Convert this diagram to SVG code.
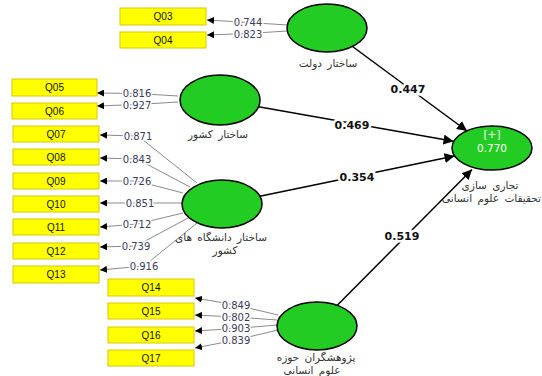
<svg xmlns="http://www.w3.org/2000/svg" width="542" height="376" viewBox="0 0 542 376">
<style>
.box{fill:#ffff00;stroke:#d8c800;stroke-width:1}
.bt{font-family:"Liberation Sans",Arial,sans-serif;font-size:10px;fill:#111;text-anchor:middle}
.lv{fill:#22cc22;stroke:#000;stroke-width:1.5}
.fa{font-family:"DejaVu Sans",sans-serif;font-size:10.5px;fill:#333;text-anchor:middle;word-spacing:2px}
.ld{fill:none;stroke:#8a8a8a;stroke-width:1}
.pc{fill:none;stroke:#000;stroke-width:1.5}
.lt{font-family:"DejaVu Sans",sans-serif;font-size:10px;fill:#3a3a5a;text-anchor:middle;paint-order:stroke;stroke:#fff;stroke-width:3px}
.pt{font-family:"DejaVu Sans",sans-serif;font-weight:bold;font-size:11px;fill:#111;text-anchor:middle;paint-order:stroke;stroke:#fff;stroke-width:5px}
.wt{font-family:"DejaVu Sans",sans-serif;font-size:10.5px;fill:#fff;text-anchor:middle}
</style>
<defs>
<marker id="ah" viewBox="0 0 10 10" refX="10" refY="5" markerWidth="7" markerHeight="7" markerUnits="userSpaceOnUse" orient="auto">
<path d="M0,0 L10,5 L0,10 z" fill="#000"/>
</marker>
<marker id="ah2" viewBox="0 0 10 10" refX="10" refY="5" markerWidth="10" markerHeight="10" markerUnits="userSpaceOnUse" orient="auto">
<path d="M0,0 L10,5 L0,10 z" fill="#000"/>
</marker>
</defs>
<rect width="542" height="376" fill="#fff"/>

<g id="connectors">
<path class="ld" d="M288,25 L248,22.5 L207,20" marker-end="url(#ah)"/>
<path class="ld" d="M287,31 L248,33.5 L207,35" marker-end="url(#ah)"/>
<path class="ld" d="M178,96 L137,93.5 L97,93" marker-end="url(#ah)"/>
<path class="ld" d="M178,102 L137,104.5 L97,106" marker-end="url(#ah)"/>
<path class="ld" d="M197,183 L138,136 L100,135" marker-end="url(#ah)"/>
<path class="ld" d="M190,187 L137,159 L100,158" marker-end="url(#ah)"/>
<path class="ld" d="M183,193 L137,181 L100,181" marker-end="url(#ah)"/>
<path class="ld" d="M182,203 L140,203 L100,203" marker-end="url(#ah)"/>
<path class="ld" d="M183,213 L137,224 L100,227" marker-end="url(#ah)"/>
<path class="ld" d="M188,218 L136,246 L100,247" marker-end="url(#ah)"/>
<path class="ld" d="M197,223 L144,266 L100,270" marker-end="url(#ah)"/>
<path class="ld" d="M278,315 L236,305 L195,298" marker-end="url(#ah)"/>
<path class="ld" d="M277,320 L236,317 L195,315" marker-end="url(#ah)"/>
<path class="ld" d="M277,325 L236,328.5 L195,331" marker-end="url(#ah)"/>
<path class="ld" d="M278,330 L236,340 L195,348" marker-end="url(#ah)"/>
<path class="pc" d="M352.5,46.5 L467,131" marker-end="url(#ah2)"/>
<path class="pc" d="M258.5,106.8 L453.5,141.3" marker-end="url(#ah2)"/>
<path class="pc" d="M259.8,196.2 L454.5,156" marker-end="url(#ah2)"/>
<path class="pc" d="M337.3,305.3 L472,169.5" marker-end="url(#ah2)"/>
<text class="lt" x="248" y="26">0.744</text>
<text class="lt" x="248" y="37.5">0.823</text>
<text class="lt" x="137" y="97">0.816</text>
<text class="lt" x="137" y="108.5">0.927</text>
<text class="lt" x="138" y="139.5">0.871</text>
<text class="lt" x="137" y="162.5">0.843</text>
<text class="lt" x="137" y="184.5">0.726</text>
<text class="lt" x="140" y="206.5">0.851</text>
<text class="lt" x="137" y="227.5">0.712</text>
<text class="lt" x="136" y="249.5">0.739</text>
<text class="lt" x="144" y="269.5">0.916</text>
<text class="lt" x="236" y="308.5">0.849</text>
<text class="lt" x="236" y="320.5">0.802</text>
<text class="lt" x="236" y="332">0.903</text>
<text class="lt" x="236" y="343.5">0.839</text>
<text class="pt" x="408" y="93">0.447</text>
<text class="pt" x="352" y="129">0.469</text>
<text class="pt" x="357" y="181">0.354</text>
<text class="pt" x="402" y="240">0.519</text>
</g>

<g id="Q03"><rect class="box" x="120" y="8" width="86" height="17"/><text class="bt" x="163" y="20">Q03</text></g>
<g id="Q04"><rect class="box" x="120" y="32" width="86" height="16"/><text class="bt" x="163" y="44">Q04</text></g>
<g id="Q05"><rect class="box" x="12" y="79" width="85" height="17"/><text class="bt" x="54.5" y="91">Q05</text></g>
<g id="Q06"><rect class="box" x="12" y="103" width="85" height="16"/><text class="bt" x="54.5" y="115">Q06</text></g>
<g id="Q07"><rect class="box" x="13" y="126" width="86" height="16"/><text class="bt" x="56" y="138">Q07</text></g>
<g id="Q08"><rect class="box" x="13" y="149" width="86" height="16"/><text class="bt" x="56" y="161">Q08</text></g>
<g id="Q09"><rect class="box" x="13" y="173" width="86" height="16"/><text class="bt" x="56" y="185">Q09</text></g>
<g id="Q10"><rect class="box" x="13" y="196" width="86" height="16"/><text class="bt" x="56" y="208">Q10</text></g>
<g id="Q11"><rect class="box" x="13" y="219" width="86" height="16"/><text class="bt" x="56" y="231">Q11</text></g>
<g id="Q12"><rect class="box" x="13" y="243" width="86" height="16"/><text class="bt" x="56" y="255">Q12</text></g>
<g id="Q13"><rect class="box" x="13" y="266" width="86" height="17"/><text class="bt" x="56" y="278">Q13</text></g>
<g id="Q14"><rect class="box" x="108" y="279" width="86" height="17"/><text class="bt" x="151" y="291">Q14</text></g>
<g id="Q15"><rect class="box" x="108" y="303" width="86" height="16"/><text class="bt" x="151" y="315">Q15</text></g>
<g id="Q16"><rect class="box" x="108" y="327" width="86" height="16"/><text class="bt" x="151" y="339">Q16</text></g>
<g id="Q17"><rect class="box" x="108" y="350" width="86" height="16"/><text class="bt" x="151" y="362">Q17</text></g>

<g id="LV_dolat"><ellipse class="lv" cx="327" cy="28" rx="40" ry="24"/><text class="fa" x="328" y="67">ساختار دولت</text></g>
<g id="LV_keshvar"><ellipse class="lv" cx="220" cy="100" rx="40" ry="25"/><text class="fa" x="218" y="138">ساختار کشور</text></g>
<g id="LV_daneshgah"><ellipse class="lv" cx="222" cy="204" rx="40" ry="24"/><text class="fa" x="221" y="241">ساختار دانشگاه های</text><text class="fa" x="225" y="254">کشور</text></g>
<g id="LV_pajooheshgaran"><ellipse class="lv" cx="317" cy="326" rx="40" ry="24"/><text class="fa" x="316" y="361">پژوهشگران حوزه</text><text class="fa" x="312" y="374">علوم انسانی</text></g>
<g id="LV_target"><ellipse class="lv" cx="492" cy="148" rx="40" ry="22"/><text class="wt" x="492" y="138">[+]</text><text class="wt" x="492" y="152">0.770</text><text class="fa" x="490" y="189">تجاری سازی</text><text class="fa" x="541" y="202" style="text-anchor:end">تحقیقات علوم انسانی</text></g>
</svg>
